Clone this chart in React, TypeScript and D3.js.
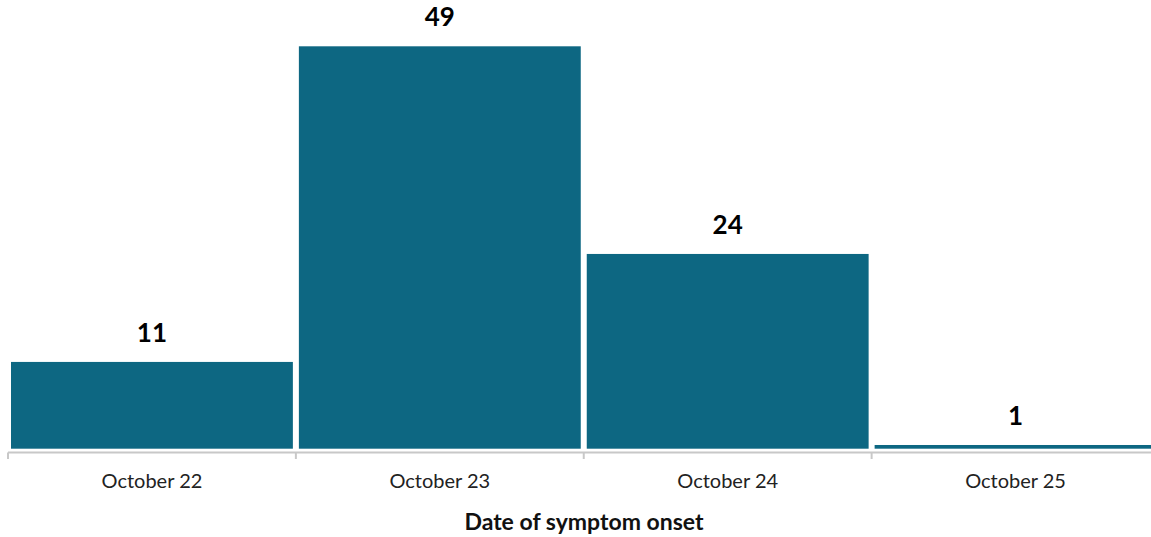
import React from "react";
import * as d3 from "d3";

const categories = ["October 22", "October 23", "October 24", "October 25"];
const cases = [11, 49, 24, 1];
const axisTitle = "Date of symptom onset";

const W = 1151;
const H = 537;
const FONT = "Lato, 'Open Sans', sans-serif";
const BAR = "#0d6782";

export default function App() {
  const x = d3.scaleBand<string>().domain(categories).range([8, 1159.5]).padding(0);
  const y = d3.scaleLinear().domain([0, 49]).range([451, 44]);
  const inset = 3;
  const vInset = 2.3;
  return (
    <svg width={W} height={H} style={{ position: "absolute", left: 0, top: 0 }}>
      {categories.map((c, i) => {
        const x0 = x(c)!;
        const bw = x.bandwidth();
        const top = y(cases[i]) + vInset;
        const bottom = y(0) - vInset;
        return (
          <g key={c}>
            <rect x={x0 + inset} y={top} width={Math.min(bw - 2 * inset, W - x0 - inset)} height={bottom - top} fill={BAR} />
            <text x={x0 + bw / 2} y={y(cases[i]) - 18} textAnchor="middle" fontFamily={FONT} fontWeight={700} fontSize={26} fill="#000">
              {cases[i]}
            </text>
            <text x={x0 + bw / 2} y={488} textAnchor="middle" fontFamily={FONT} fontSize={20} fill="#222">
              {c}
            </text>
          </g>
        );
      })}
      <line x1={8} x2={W} y1={452.5} y2={452.5} stroke="#c8c8c8" strokeWidth={2} />
      {categories.map((c) => (
        <line key={c} x1={x(c)!} x2={x(c)!} y1={452.5} y2={459} stroke="#c8c8c8" strokeWidth={2} />
      ))}
      <text x={584} y={530} textAnchor="middle" fontFamily={FONT} fontWeight={700} fontSize={23} fill="#111">
        {axisTitle}
      </text>
    </svg>
  );
}
